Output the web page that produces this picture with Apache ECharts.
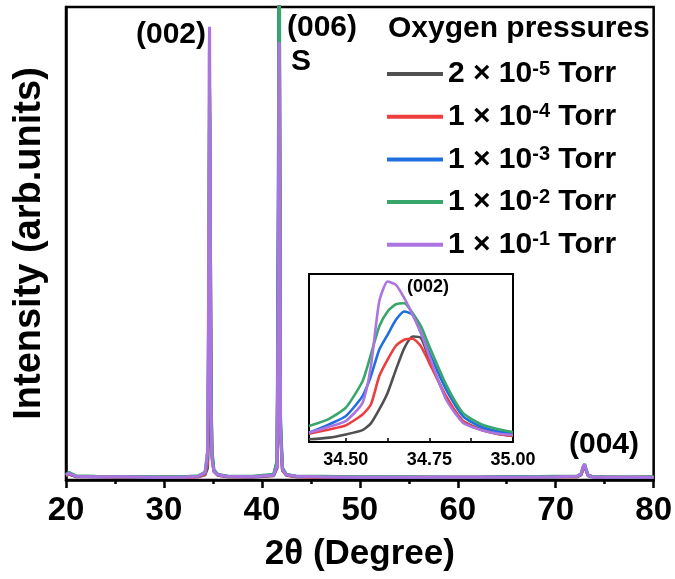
<!DOCTYPE html>
<html>
<head>
<meta charset="utf-8">
<script src="https://cdn.jsdelivr.net/npm/echarts@6/dist/echarts.min.js"></script>
<style>
  html, body { margin: 0; padding: 0; background: #fff; }
  #chart { width: 675px; height: 579px; }
</style>
</head>
<body>
<div id="chart"></div>
<script>
// 2theta grid of the full scan (degrees)
var mainX = [20, 20.3, 21, 23, 26, 29, 32, 33.5, 34.2, 34.45, 34.55, 34.62, 34.66, 34.7, 34.74, 34.8, 34.9, 35.1, 35.5, 36.5,
  39, 41.2, 41.55, 41.68, 41.74, 41.78, 41.82, 41.9, 42.1, 42.5, 43.5, 46, 50, 54, 58, 62, 66, 70,
  72.2, 72.6, 72.8, 72.95, 73.1, 73.3, 73.7, 75, 77.5, 80];
// intensity of each oxygen pressure (arb. units)
var mainBlack = [0.9, 1.2, 0.7, 0.7, 0.6, 0.6, 0.6, 0.7, 1.1, 2.5, 9, 30, 50, 63, 55, 22, 5, 1.8, 1.0, 0.7,
  0.6, 0.9, 2.5, 45, 100, 104, 72, 10, 2.0, 1.0, 0.7, 0.6, 0.6, 0.6, 0.6, 0.6, 0.6, 0.7,
  0.7, 1.1, 2.3, 3.0, 2.0, 0.9, 0.7, 0.6, 0.6, 0.6];
var mainRed = [0.9, 1.3, 0.8, 0.7, 0.6, 0.6, 0.6, 0.7, 1.2, 3.5, 16, 45, 58, 62, 50, 20, 5, 1.8, 1.0, 0.7,
  0.7, 1.0, 3, 50, 100, 105, 75, 11, 2.2, 1.0, 0.7, 0.6, 0.6, 0.6, 0.6, 0.6, 0.6, 0.7,
  0.7, 1.2, 2.4, 3.1, 2.1, 1.0, 0.7, 0.6, 0.6, 0.6];
var mainBlue = [1.1, 1.5, 0.8, 0.7, 0.7, 0.6, 0.7, 0.8, 1.5, 5, 26, 65, 78, 76, 56, 22, 6, 2.0, 1.1, 0.8,
  0.7, 1.1, 4, 65, 120, 110, 70, 12, 2.4, 1.1, 0.8, 0.7, 0.6, 0.6, 0.6, 0.6, 0.7, 0.7,
  0.8, 1.3, 2.7, 3.3, 2.2, 1.0, 0.7, 0.6, 0.6, 0.6];
var mainGreen = [1.2, 1.6, 0.9, 0.8, 0.7, 0.7, 0.7, 0.9, 1.7, 6, 32, 72, 83, 80, 58, 24, 6.5, 2.2, 1.2, 0.8,
  0.8, 1.2, 4, 55, 115, 130, 90, 14, 2.6, 1.2, 0.8, 0.8, 0.7, 0.7, 0.6, 0.6, 0.7, 0.8,
  0.8, 1.4, 2.8, 3.4, 2.3, 1.1, 0.8, 0.7, 0.6, 0.7];
var mainPurple = [1.0, 1.4, 0.8, 0.7, 0.7, 0.6, 0.6, 0.8, 1.5, 6, 38, 90, 95.8, 74, 44, 16, 4.5, 1.8, 1.1, 0.8,
  0.7, 1.0, 3, 45, 90, 92.6, 66, 10, 2.2, 1.1, 0.8, 0.7, 0.6, 0.6, 0.6, 0.6, 0.6, 0.7,
  0.8, 1.3, 2.8, 3.3, 2.2, 1.0, 0.7, 0.6, 0.6, 0.6];

// zoom on the (002) peak
var insetX = [34.39, 34.45, 34.5, 34.55, 34.575, 34.6, 34.625, 34.65, 34.675, 34.7, 34.725, 34.75, 34.8, 34.85, 34.9, 34.95, 35.0];
var insetBlack = [1.6, 2.6, 4.5, 7.1, 11.1, 19.4, 29.2, 43.1, 55.9, 62.8, 61.9, 49, 26.3, 12.5, 7.9, 5.1, 3.6];
var insetRed = [4.9, 7.5, 9.9, 16.4, 22.3, 39.1, 49, 57.3, 60.9, 61.5, 56.9, 47, 27.3, 12.5, 7.5, 4.9, 3.6];
var insetBlue = [5.5, 10.5, 15.4, 27.3, 39.1, 54.9, 63.8, 72.7, 77.7, 75.7, 64.8, 53, 31.2, 15.4, 9.5, 6.5, 4.9];
var insetGreen = [9.5, 13.8, 20.4, 36.2, 52, 68.8, 77.7, 82, 82.6, 76.7, 68.8, 56.9, 34.2, 17.4, 11.1, 7.9, 5.9];
var insetPurple = [5.5, 9.1, 12.5, 23.3, 45, 83.6, 95.5, 93.5, 85.6, 75.7, 64.8, 51, 25.3, 11.5, 7.5, 5.1, 4.2];

var insetTicks = [34.5, 34.75, 35.0];
var insetMinorTicks = [34.5, 34.625, 34.75, 34.875, 35.0];

var seriesNames = ['p1', 'p2', 'p3', 'p4', 'p5'];
var legendCoef = ['2', '1', '1', '1', '1'];
var legendExp = ['-5', '-4', '-3', '-2', '-1'];
var colors = ['#505050', '#ee3d3d', '#1f6fe0', '#38a66a', '#ac74e0'];

var mainData = [mainBlack, mainRed, mainBlue, mainGreen, mainPurple];
var insetData = [insetBlack, insetRed, insetBlue, insetGreen, insetPurple];

function pairs(xs, ys) {
  return xs.map(function (x, i) { return [x, ys[i]]; });
}

var FONT = '"Liberation Sans", Arial, sans-serif';
var chart = echarts.init(document.getElementById('chart'));

var series = [];
seriesNames.forEach(function (n, i) {
  series.push({
    name: n, type: 'line', xAxisIndex: 0, yAxisIndex: 0,
    data: pairs(mainX, mainData[i]), symbol: 'none', clip: true,
    lineStyle: { width: 3, color: colors[i] }, itemStyle: { color: colors[i] },
    z: 2 + i
  });
});
seriesNames.forEach(function (n, i) {
  series.push({
    name: n, type: 'line', xAxisIndex: 1, yAxisIndex: 1,
    data: pairs(insetX, insetData[i]), symbol: 'none', smooth: 0.2,
    lineStyle: { width: 2.6, color: colors[i] }, itemStyle: { color: colors[i] },
    z: 20 + i
  });
});

var option = {
  animation: false,
  backgroundColor: '#fff',
  color: colors,
  title: {
    text: 'Oxygen pressures', left: 383, top: 9,
    textStyle: { fontFamily: FONT, fontSize: 30, fontWeight: 'bold', color: '#000' }
  },
  legend: {
    data: seriesNames, orient: 'vertical', left: 382, top: 54,
    icon: 'rect', itemWidth: 56, itemHeight: 4, itemGap: 12.7,
    formatter: function (name) {
      var i = seriesNames.indexOf(name);
      return '{b|' + legendCoef[i] + ' × 10}{s|' + legendExp[i] + '}{b| Torr}';
    },
    textStyle: {
      padding: [0, 0, 0, 0],
      rich: {
        b: { fontFamily: FONT, fontSize: 30, fontWeight: 'bold', color: '#000', lineHeight: 30 },
        s: { fontFamily: FONT, fontSize: 20, fontWeight: 'bold', color: '#000', lineHeight: 30, verticalAlign: 'top' }
      }
    }
  },
  grid: [
    { left: 66, right: 20, top: 7, bottom: 99, show: true, borderColor: '#000', borderWidth: 2.5 },
    { left: 309, right: 162, top: 274, bottom: 137, show: true, borderColor: '#000', borderWidth: 2, backgroundColor: '#fff', z: 10 }
  ],
  xAxis: [
    {
      type: 'value', gridIndex: 0, min: 20, max: 80, interval: 10,
      name: '2θ (Degree)', nameLocation: 'middle', nameGap: 57,
      nameTextStyle: { fontFamily: FONT, fontSize: 35, fontWeight: 'bold', color: '#000' },
      axisLine: { onZero: false, lineStyle: { color: '#000', width: 2.5 } },
      axisTick: { show: true, inside: false, length: 8, lineStyle: { color: '#000', width: 2.5 } },
      minorTick: { show: true, splitNumber: 2, length: 4, lineStyle: { color: '#000', width: 2.5 } },
      splitLine: { show: false },
      axisLabel: { fontFamily: FONT, fontSize: 33, fontWeight: 'bold', color: '#000', margin: 14 }
    },
    {
      type: 'value', gridIndex: 1, min: 34.39, max: 35.0,
      axisLine: { onZero: false, lineStyle: { color: '#000', width: 2 } },
      axisTick: { show: true, inside: true, length: 4, customValues: insetMinorTicks, lineStyle: { color: '#000', width: 1.5 } },
      splitLine: { show: false },
      axisLabel: {
        customValues: insetTicks, fontFamily: FONT, fontSize: 18, fontWeight: 'bold', color: '#000', margin: 9,
        formatter: function (v) { return v.toFixed(2); }
      },
      z: 11
    }
  ],
  yAxis: [
    {
      type: 'value', gridIndex: 0, min: 0, max: 100,
      name: 'Intensity (arb.units)', nameLocation: 'middle', nameGap: 17,
      nameTextStyle: { fontFamily: FONT, fontSize: 38, fontWeight: 'bold', color: '#000' },
      axisLine: { show: true, lineStyle: { color: '#000', width: 2.5 } },
      axisTick: { show: false }, axisLabel: { show: false }, splitLine: { show: false }
    },
    {
      type: 'value', gridIndex: 1, min: 0, max: 100,
      axisLine: { show: true, lineStyle: { color: '#000', width: 2 } },
      axisTick: { show: false }, axisLabel: { show: false }, splitLine: { show: false },
      z: 11
    }
  ],
  graphic: [
    { type: 'text', x: 171, y: 35, z: 50, style: { text: '(002)', font: 'bold 30px ' + FONT, fill: '#000', align: 'center', verticalAlign: 'middle' } },
    { type: 'text', x: 322, y: 28, z: 50, style: { text: '(006)', font: 'bold 30px ' + FONT, fill: '#000', align: 'center', verticalAlign: 'middle' } },
    { type: 'text', x: 291, y: 62, z: 50, style: { text: 'S', font: 'bold 30px ' + FONT, fill: '#000', align: 'left', verticalAlign: 'middle' } },
    { type: 'text', x: 604, y: 445, z: 50, style: { text: '(004)', font: 'bold 30px ' + FONT, fill: '#000', align: 'center', verticalAlign: 'middle' } },
    { type: 'text', x: 428, y: 287, z: 50, style: { text: '(002)', font: 'bold 18px ' + FONT, fill: '#000', align: 'center', verticalAlign: 'middle' } }
  ],
  series: series
};
chart.setOption(option);
</script>
</body>
</html>
